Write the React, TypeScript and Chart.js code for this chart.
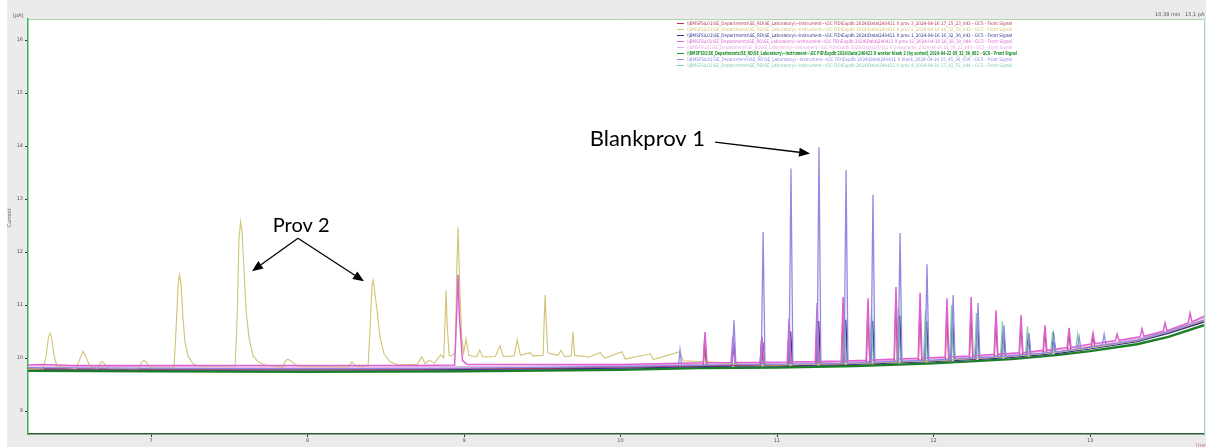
import React, { useEffect, useRef } from "react";
import { Chart, registerables } from "chart.js";

Chart.register(...registerables);

type P = [number, number];

const X_RANGE = [6.214, 13.728];
const Y_RANGE = [8.566, 16.4];
const X_TICKS = [7, 8, 9, 10, 11, 12, 13];
const Y_TICKS = [9, 10, 11, 12, 13, 14, 15, 16];

// Blank (lavender) - Blankprov 1
const blank: P[] = [
  [6.214, 9.82], [6.9, 9.81], [7.6, 9.8], [8.3, 9.8], [9.0, 9.81], [9.6, 9.83], [10.0, 9.84],
  [10.37, 9.86], [10.38, 10.15], [10.39, 9.86],
  [10.713, 9.875], [10.725, 10.72], [10.737, 9.875],
  [10.899, 9.88], [10.911, 12.38], [10.923, 9.88],
  [11.077, 9.885], [11.089, 13.58], [11.101, 9.885],
  [11.256, 9.895], [11.268, 13.98], [11.28, 9.895],
  [11.429, 9.905], [11.441, 13.55], [11.453, 9.905],
  [11.601, 9.92], [11.613, 13.08], [11.625, 9.92],
  [11.774, 9.94], [11.786, 12.36], [11.798, 9.94],
  [11.946, 9.955], [11.958, 11.77], [11.97, 9.955],
  [12.113, 9.98], [12.125, 11.19], [12.137, 9.98],
  [12.272, 10.005], [12.284, 11.04], [12.296, 10.005],
  [12.438, 10.03], [12.45, 10.62], [12.462, 10.03],
  [12.598, 10.07], [12.61, 10.47], [12.622, 10.07],
  [12.758, 10.11], [12.77, 10.38], [12.782, 10.11],
  [12.918, 10.17], [12.93, 10.4], [12.942, 10.17],
  [13.078, 10.245], [13.09, 10.45], [13.102, 10.25],
  [13.3, 10.34], [13.5, 10.5], [13.728, 10.72],
];

// prov 11 (pink)
const prov11: P[] = [
  [6.214, 9.87], [6.3, 9.88], [6.5, 9.86], [7.5, 9.86], [8.7, 9.86],
  [8.94, 9.87], [8.955, 11.0], [8.962, 11.57], [8.97, 10.8], [8.99, 9.95], [9.02, 9.88],
  [9.6, 9.88], [10.0, 9.88],
  [10.528, 9.91], [10.54, 10.49], [10.552, 9.91],
  [10.706, 9.915], [10.718, 10.4], [10.73, 9.915],
  [10.892, 9.92], [10.904, 10.4], [10.916, 9.92],
  [11.065, 9.925], [11.077, 10.75], [11.089, 9.925],
  [11.244, 9.935], [11.256, 11.04], [11.268, 9.935],
  [11.41, 9.945], [11.422, 11.15], [11.434, 9.945],
  [11.569, 9.96], [11.581, 11.13], [11.593, 9.96],
  [11.748, 9.98], [11.76, 11.34], [11.772, 9.98],
  [11.902, 9.995], [11.914, 11.23], [11.926, 9.995],
  [12.074, 10.02], [12.086, 11.13], [12.098, 10.02],
  [12.228, 10.04], [12.24, 11.15], [12.252, 10.04],
  [12.387, 10.07], [12.399, 10.9], [12.411, 10.07],
  [12.547, 10.1], [12.559, 10.81], [12.571, 10.1],
  [12.7, 10.145], [12.712, 10.62], [12.724, 10.145],
  [12.854, 10.2], [12.866, 10.57], [12.878, 10.2],
  [13.007, 10.265], [13.019, 10.47], [13.031, 10.27],
  [13.161, 10.33], [13.173, 10.45], [13.185, 10.335],
  [13.32, 10.4], [13.332, 10.55], [13.344, 10.41],
  [13.467, 10.505], [13.479, 10.66], [13.491, 10.515],
  [13.627, 10.66], [13.639, 10.85], [13.651, 10.68],
  [13.728, 10.79],
];

// prov 2 (khaki yellow)
const prov2: P[] = [
  [6.214, 9.79], [6.31, 9.8], [6.33, 10.05], [6.345, 10.4], [6.355, 10.47], [6.365, 10.38], [6.38, 10.05], [6.4, 9.84],
  [6.52, 9.8], [6.545, 9.98], [6.565, 10.13], [6.58, 10.05], [6.61, 9.84],
  [6.66, 9.8], [6.675, 9.9], [6.687, 9.94], [6.7, 9.9], [6.725, 9.81],
  [6.92, 9.8], [6.94, 9.92], [6.955, 9.96], [6.97, 9.92], [6.995, 9.81],
  [7.147, 9.81], [7.16, 10.53], [7.173, 11.38], [7.182, 11.57], [7.192, 11.38], [7.204, 10.76], [7.217, 10.3], [7.236, 10.04], [7.268, 9.89], [7.3, 9.85],
  [7.537, 9.85], [7.55, 10.72], [7.562, 12.23], [7.572, 12.57], [7.582, 12.38], [7.594, 11.66], [7.607, 10.91], [7.626, 10.38], [7.652, 10.04], [7.684, 9.93], [7.728, 9.87],
  [7.84, 9.83], [7.86, 9.95], [7.875, 9.98], [7.895, 9.94], [7.94, 9.84],
  [8.26, 9.83], [8.284, 9.93], [8.31, 9.84],
  [8.387, 9.85], [8.399, 10.53], [8.412, 11.38], [8.419, 11.47], [8.428, 11.28], [8.444, 10.91], [8.463, 10.4], [8.489, 10.08], [8.527, 9.93], [8.578, 9.87],
  [8.7, 9.88], [8.73, 10.02], [8.75, 9.9], [8.78, 9.96], [8.81, 9.9], [8.85, 10.06], [8.87, 10.0],
  [8.878, 10.6], [8.885, 11.28], [8.893, 10.6], [8.905, 10.05], [8.92, 10.04],
  [8.945, 10.1], [8.953, 11.6], [8.962, 12.47], [8.972, 11.4], [8.985, 10.4], [8.998, 10.1], [9.013, 10.36], [9.03, 10.05],
  [9.08, 10.02], [9.1, 10.15], [9.12, 10.02], [9.2, 10.03], [9.23, 10.23], [9.25, 10.03],
  [9.32, 10.04], [9.34, 10.34], [9.36, 10.05], [9.42, 10.1], [9.44, 10.04],
  [9.505, 10.05], [9.512, 10.7], [9.518, 11.19], [9.525, 10.7], [9.535, 10.1],
  [9.6, 10.05], [9.62, 10.15], [9.64, 10.03], [9.685, 10.04], [9.696, 10.49], [9.707, 10.05],
  [9.8, 10.02], [9.87, 10.1], [9.9, 10.0], [10.01, 10.12], [10.03, 9.98], [10.19, 10.08], [10.21, 9.97],
  [10.38, 10.12], [10.4, 9.95], [10.6, 9.92], [10.8, 9.88], [11.0, 9.87], [11.5, 9.9], [12.0, 9.95],
  [12.5, 10.03], [12.8, 10.11], [13.0, 10.19], [13.3, 10.33], [13.5, 10.49], [13.728, 10.71],
];

// prov 3 (maroon)
const prov3: P[] = [
  [6.214, 9.8], [7.5, 9.79], [8.5, 9.79], [9.5, 9.81], [10.0, 9.825],
  [10.528, 9.855], [10.536, 10.3], [10.548, 9.855],
  [10.892, 9.865], [10.9, 10.35], [10.912, 9.865],
  [11.068, 9.87], [11.076, 10.62], [11.088, 9.87],
  [11.247, 9.88], [11.255, 10.85], [11.267, 9.88],
  [11.413, 9.89], [11.421, 10.98], [11.433, 9.89],
  [11.572, 9.905], [11.58, 11.02], [11.592, 9.905],
  [11.75, 9.925], [11.758, 11.1], [11.77, 9.925],
  [11.904, 9.94], [11.912, 11.0], [11.924, 9.94],
  [12.076, 9.965], [12.084, 10.95], [12.096, 9.965],
  [12.23, 9.985], [12.238, 10.92], [12.25, 9.985],
  [12.389, 10.015], [12.397, 10.75], [12.409, 10.015],
  [12.549, 10.05], [12.557, 10.7], [12.569, 10.05],
  [12.702, 10.09], [12.71, 10.55], [12.722, 10.09],
  [12.856, 10.14], [12.864, 10.5], [12.876, 10.14],
  [13.009, 10.21], [13.017, 10.42], [13.029, 10.215],
  [13.3, 10.325], [13.5, 10.485], [13.728, 10.7],
];

// prov 1 (navy)
const prov1: P[] = [
  [6.214, 9.79], [7.5, 9.78], [8.5, 9.78], [9.5, 9.8], [10.0, 9.815],
  [10.71, 9.85], [10.722, 10.3], [10.734, 9.85],
  [10.896, 9.855], [10.908, 10.3], [10.92, 9.855],
  [11.074, 9.86], [11.086, 10.5], [11.098, 9.86],
  [11.253, 9.87], [11.265, 10.7], [11.277, 9.87],
  [11.426, 9.88], [11.438, 10.72], [11.45, 9.88],
  [11.598, 9.895], [11.61, 10.7], [11.622, 9.895],
  [11.771, 9.915], [11.783, 10.8], [11.795, 9.915],
  [11.943, 9.93], [11.955, 10.7], [11.967, 9.93],
  [12.11, 9.955], [12.122, 10.68], [12.134, 9.955],
  [12.269, 9.98], [12.281, 10.62], [12.293, 9.98],
  [12.435, 10.005], [12.447, 10.5], [12.459, 10.005],
  [12.595, 10.045], [12.607, 10.45], [12.619, 10.045],
  [12.755, 10.085], [12.767, 10.4], [12.779, 10.085],
  [13.0, 10.175], [13.3, 10.315], [13.5, 10.47], [13.728, 10.68],
];

// prov 4 (light teal)
const prov4: P[] = [
  [6.214, 9.8], [7.5, 9.79], [8.5, 9.79], [9.5, 9.82], [10.0, 9.83],
  [10.53, 9.86], [10.542, 10.2], [10.554, 9.86],
  [10.889, 9.87], [10.901, 10.25], [10.913, 9.87],
  [11.067, 9.875], [11.079, 10.45], [11.091, 9.875],
  [11.246, 9.885], [11.258, 10.6], [11.27, 9.885],
  [11.419, 9.895], [11.431, 10.8], [11.443, 9.895],
  [11.591, 9.91], [11.603, 10.9], [11.615, 9.91],
  [11.764, 9.93], [11.776, 10.95], [11.788, 9.93],
  [11.936, 9.945], [11.948, 10.9], [11.96, 9.945],
  [12.103, 9.97], [12.115, 11.0], [12.127, 9.97],
  [12.262, 9.995], [12.274, 10.85], [12.286, 9.995],
  [12.428, 10.02], [12.44, 10.7], [12.452, 10.02],
  [12.588, 10.06], [12.6, 10.6], [12.612, 10.06],
  [12.748, 10.1], [12.76, 10.5], [12.772, 10.1],
  [12.908, 10.16], [12.92, 10.45], [12.932, 10.16],
  [13.3, 10.33], [13.5, 10.49], [13.728, 10.71],
];

// light pink sample
const uvr: P[] = [
  [6.214, 9.85], [7.5, 9.83], [8.5, 9.83], [9.5, 9.85], [10.0, 9.86],
  [11.072, 9.905], [11.082, 10.5], [11.094, 9.905],
  [11.25, 9.915], [11.26, 10.65], [11.272, 9.915],
  [11.424, 9.925], [11.434, 10.7], [11.446, 9.925],
  [11.596, 9.94], [11.606, 10.75], [11.618, 9.94],
  [11.769, 9.96], [11.779, 10.85], [11.791, 9.96],
  [11.941, 9.975], [11.951, 10.75], [11.963, 9.975],
  [12.108, 10.0], [12.118, 10.7], [12.13, 10.0],
  [12.267, 10.025], [12.277, 10.65], [12.289, 10.025],
  [12.433, 10.05], [12.443, 10.55], [12.455, 10.05],
  [13.0, 10.22], [13.3, 10.36], [13.5, 10.52], [13.728, 10.76],
];

// worker blank 2 (bold green)
const workerBlank: P[] = [
  [6.214, 9.76], [7.0, 9.75], [8.0, 9.74], [9.0, 9.75], [10.0, 9.78], [10.5, 9.81], [11.0, 9.82],
  [11.5, 9.85], [12.0, 9.9], [12.5, 9.98], [12.8, 10.06], [13.0, 10.13], [13.3, 10.26], [13.5, 10.4], [13.728, 10.62],
];

const LEGEND_LABELS = [
  String.raw`\\BMSFS\L01\SE_Departments\SE_RD\SE_Laboratory\~Instrument~\GC FID\Expdb 2024\Data\240411 X prov 3_2024-04-16 17_15_23_043 - GC5 - Front Signal`,
  String.raw`\\BMSFS\L01\SE_Departments\SE_RD\SE_Laboratory\~Instrument~\GC FID\Expdb 2024\Data\240411 X prov 2_2024-04-16 16_33_58_042 - GC5 - Front Signal`,
  String.raw`\\BMSFS\L01\SE_Departments\SE_RD\SE_Laboratory\~Instrument~\GC FID\Expdb 2024\Data\240411 X prov 1_2024-04-16 16_32_36_041 - GC5 - Front Signal`,
  String.raw`\\BMSFS\L01\SE_Departments\SE_RD\SE_Laboratory\~Instrument~\GC FID\Expdb 2024\Data\240411 X prov 11_2024-04-16 18_38_30_046 - GC5 - Front Signal`,
  String.raw`\\BMSFS\L01\SE_Departments\SE_RD\SE_Laboratory\~Instrument~\GC FID\Expdb 2024\Data\240411 X Uvregnader_2024-04-16 16_09_21_040 - GC5 - Front Signal`,
  String.raw`\\BMSFS01\SE_Departments\SE_RD\SE_Laboratory\~Instrument~\GC FID\Expdb 2024\Data\240422 X worker blank 2 (by sorted)_2024-04-22 09_32_56_002 - GC0 - Front Signal`,
  String.raw`\\BMSFS\L01\SE_Departments\SE_RD\SE_Laboratory\~Instrument~\GC FID\Expdb 2024\Data\240411 X blank_2024-04-16 15_45_36_039 - GC5 - Front Signal`,
  String.raw`\\BMSFS\L01\SE_Departments\SE_RD\SE_Laboratory\~Instrument~\GC FID\Expdb 2024\Data\240411 X prov 4_2024-04-16 17_41_51_044 - GC5 - Front Signal`,
];
const LEGEND_COLORS = ["#b3344f", "#d2c678", "#2f2f8e", "#dd62cf", "#e9a6e4", "#1f8f2a", "#8f8ae4", "#7fcfa6"];
const LEGEND_BOLD = [false, false, false, false, false, true, false, false];

// drawing stack: first entry is drawn on top
const SERIES = [
  { data: blank, color: "#918ae2", width: 1.3 },
  { data: prov11, color: "#dd62cf", width: 1.5 },
  { data: prov2, color: "#cfc474", width: 1.1 },
  { data: prov3, color: "#b3344f", width: 1.1 },
  { data: prov4, color: "#7fcfa6", width: 1.2 },
  { data: prov1, color: "#2f2f8e", width: 1.6 },
  { data: uvr, color: "#e9a6e4", width: 1.2 },
  { data: workerBlank, color: "#1c7f26", width: 2.4 },
];

// annotation anchors in data units
const PROV2_LABEL: P = [7.78, 12.5];
const PROV2_FORK: P = [7.939, 12.26];
const PROV2_TIPS: P[] = [[7.645, 11.64], [8.361, 11.45]];
const BLANK_LABEL: P = [10.55, 14.0];
const BLANK_ARROW: P[] = [[10.604, 14.075], [11.211, 13.86]];

function arrow(ctx: CanvasRenderingContext2D, x1: number, y1: number, x2: number, y2: number) {
  const ang = Math.atan2(y2 - y1, x2 - x1);
  const L = 11, W = 4.5;
  const bx = x2 - L * Math.cos(ang), by = y2 - L * Math.sin(ang);
  ctx.beginPath();
  ctx.moveTo(x1, y1);
  ctx.lineTo(bx, by);
  ctx.stroke();
  ctx.beginPath();
  ctx.moveTo(x2, y2);
  ctx.lineTo(bx + W * Math.sin(ang), by - W * Math.cos(ang));
  ctx.lineTo(bx - W * Math.sin(ang), by + W * Math.cos(ang));
  ctx.closePath();
  ctx.fill();
}

const decor = {
  id: "decor",
  beforeDraw(chart: any) {
    const { ctx, chartArea: a, width, height } = chart;
    ctx.save();
    ctx.fillStyle = "#ffffff";
    ctx.fillRect(0, 0, width, height);
    ctx.fillStyle = "#ebebeb";
    ctx.fillRect(7, 0, width - 7, height);
    ctx.fillStyle = "#ffffff";
    ctx.fillRect(a.left, a.top, a.right - a.left, a.bottom - a.top);
    ctx.restore();
  },
  afterDraw(chart: any) {
    const { ctx, chartArea: a, scales } = chart;
    const px = (p: P) => [scales.x.getPixelForValue(p[0]), scales.y.getPixelForValue(p[1])];
    ctx.save();
    // frame top/right
    ctx.strokeStyle = "#a8d8a8";
    ctx.lineWidth = 1;
    ctx.beginPath();
    ctx.moveTo(a.left, a.top + 0.5);
    ctx.lineTo(a.right + 0.5, a.top + 0.5);
    ctx.lineTo(a.right + 0.5, a.bottom);
    ctx.stroke();

    // small texts
    ctx.fillStyle = "#555";
    ctx.font = "5px 'DejaVu Sans'";
    ctx.textBaseline = "alphabetic";
    ctx.textAlign = "left";
    ctx.fillText("[pA]", 13, 17);
    ctx.fillText("10,38 min   15,1 pA", 1155, 16);
    ctx.fillStyle = "#c06080";
    ctx.fillText("[min]", 1196, 447);
    ctx.fillStyle = "#555";
    ctx.save();
    ctx.translate(11, 218);
    ctx.rotate(-Math.PI / 2);
    ctx.textAlign = "center";
    ctx.fillText("Current", 0, 0);
    ctx.restore();

    // legend
    for (let i = 0; i < LEGEND_LABELS.length; i++) {
      const y = 23 + i * 6;
      ctx.strokeStyle = LEGEND_COLORS[i];
      ctx.lineWidth = 1;
      ctx.beginPath();
      ctx.moveTo(677, y + 0.5);
      ctx.lineTo(684, y + 0.5);
      ctx.stroke();
      ctx.fillStyle = LEGEND_COLORS[i];
      ctx.textBaseline = "middle";
      ctx.font = LEGEND_BOLD[i] ? "bold 5.5px 'DejaVu Sans'" : "4.8px 'DejaVu Sans'";
      ctx.fillText(LEGEND_LABELS[i], 687, y + 0.5, LEGEND_BOLD[i] ? 330 : 325);
    }

    // annotations
    ctx.fillStyle = "#000";
    ctx.strokeStyle = "#000";
    ctx.lineWidth = 1.3;
    ctx.textBaseline = "alphabetic";
    ctx.font = "20px Lato";
    ctx.textAlign = "center";
    const [lx, ly] = px(PROV2_LABEL);
    ctx.fillText("Prov 2", lx + 28, ly + 6.5);
    const [fx, fy] = px(PROV2_FORK);
    for (const t of PROV2_TIPS) {
      const [tx, ty] = px(t);
      arrow(ctx, fx, fy, tx, ty);
    }
    ctx.font = "22px Lato";
    ctx.textAlign = "right";
    const [bx, by] = px(BLANK_LABEL);
    ctx.fillText("Blankprov 1", bx - 1.5, by);
    const [a1x, a1y] = px(BLANK_ARROW[0]);
    const [a2x, a2y] = px(BLANK_ARROW[1]);
    arrow(ctx, a1x, a1y, a2x, a2y);
    ctx.restore();
  },
};

export default function App() {
  const ref = useRef<HTMLCanvasElement | null>(null);
  useEffect(() => {
    if (!ref.current) return;
    const chart = new Chart(ref.current, {
      type: "line",
      data: {
        datasets: SERIES.map((s, i) => ({
          label: LEGEND_LABELS[i],
          data: s.data.map(([x, y]) => ({ x, y })),
          borderColor: s.color,
          backgroundColor: s.color,
          borderWidth: s.width,
          pointRadius: 0,
          tension: 0,
          fill: false,
        })),
      },
      options: {
        animation: false,
        responsive: false,
        devicePixelRatio: 1,
        events: [],
        layout: { padding: { left: 0, right: 2, top: 19, bottom: 0 } },
        plugins: { legend: { display: false }, tooltip: { enabled: false } },
        scales: {
          x: {
            type: "linear",
            min: X_RANGE[0],
            max: X_RANGE[1],
            afterBuildTicks: (s: any) => { s.ticks = X_TICKS.map((v) => ({ value: v })); },
            afterFit: (s: any) => { s.height = 13; },
            grid: { drawOnChartArea: false, drawTicks: true, tickLength: 3, color: "#333", tickWidth: 1 },
            border: { display: true, color: "#2d5e34", width: 1.5 },
            ticks: { font: { size: 5, family: "DejaVu Sans" }, color: "#555", padding: 1, maxRotation: 0, autoSkip: false },
          },
          y: {
            type: "linear",
            min: Y_RANGE[0],
            max: Y_RANGE[1],
            afterBuildTicks: (s: any) => { s.ticks = Y_TICKS.map((v) => ({ value: v })); },
            afterFit: (s: any) => { s.width = 28; },
            grid: { drawOnChartArea: false, drawTicks: true, tickLength: 3, color: "#333", tickWidth: 1 },
            border: { display: true, color: "#3cb44b", width: 1.5 },
            ticks: { font: { size: 5, family: "DejaVu Sans" }, color: "#555", padding: 2, autoSkip: false },
          },
        },
      },
      plugins: [decor],
    } as any);
    return () => chart.destroy();
  }, []);
  return (
    <div style={{ position: "fixed", left: 0, top: 0, width: 1206, height: 447 }}>
      <canvas ref={ref} width={1206} height={447} style={{ display: "block", width: 1206, height: 447 }} />
    </div>
  );
}
